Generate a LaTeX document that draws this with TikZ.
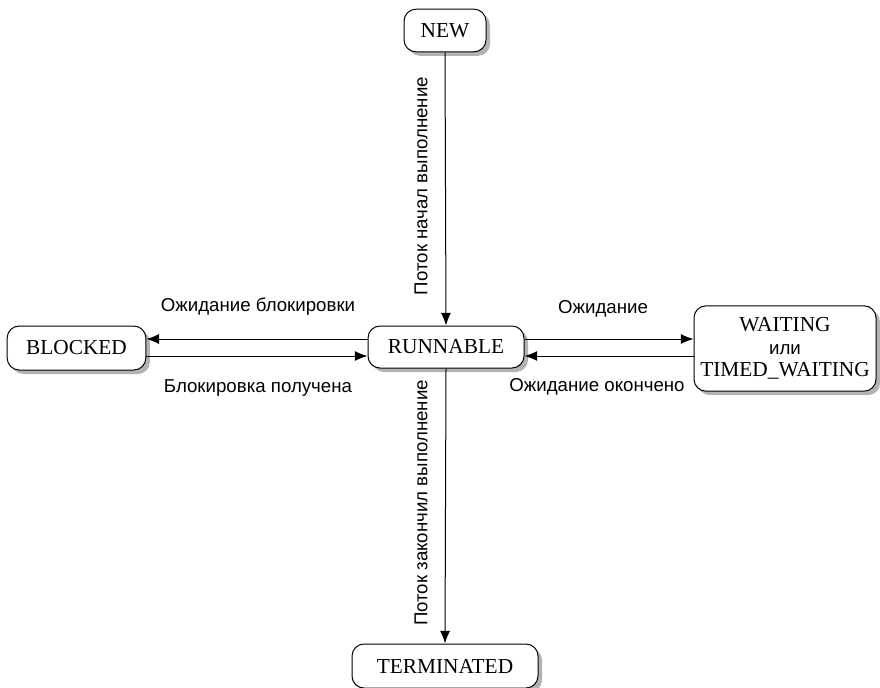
\documentclass[tikz,border=0pt]{standalone}
\usepackage{fontspec}
\setmainfont{Liberation Serif}
\newfontfamily\lblfont{Liberation Sans}
\usetikzlibrary{arrows.meta,shadows}
\tikzset{
  state/.style={draw=black, line width=0.75pt, rounded corners=9pt, fill=white,
    align=center, inner sep=0pt, font=\fontsize{16}{18}\selectfont,
    drop shadow={shadow xshift=3pt, shadow yshift=-3pt, fill=black!50, opacity=0.6}},
  conn/.style={line width=0.75pt, -{Latex[length=9.5pt,width=7.5pt]}},
  lbl/.style={font=\lblfont\fontsize{14}{16}\selectfont, inner sep=0pt}
}
\begin{document}
\begin{tikzpicture}[x=0.75pt,y=-0.75pt]
\useasboundingbox (0,0) rectangle (880,687);
\node[state, minimum width=61.5pt, minimum height=32pt] (new) at (445,30.5) {NEW};
\node[state, minimum width=117pt, minimum height=31.5pt] (run) at (446,347) {RUNNABLE};
\node[state, minimum width=104pt, minimum height=33pt] (blk) at (76.5,348) {BLOCKED};
\node[state, minimum width=136.5pt, minimum height=64pt] (wait) at (785,348.5) {WAITING\\[-1pt]{\lblfont\fontsize{14}{16}\selectfont или}\\[-1pt]TIMED\_WAITING};
\node[state, minimum width=139.5pt, minimum height=33pt] (term) at (445,666) {TERMINATED};

\draw[conn] (new.south) -- (run.north);
\draw[conn] (run.south) -- (term.north);
\draw[conn] (run.west |- 0,339) -- (blk.east |- 0,339);
\draw[conn] (blk.east |- 0,356) -- (run.west |- 0,356);
\draw[conn] (run.east |- 0,339) -- (wait.west |- 0,339);
\draw[conn] (wait.west |- 0,356) -- (run.east |- 0,356);

\node[lbl] (l1) at (258,307) {Ожидание блокировки};
\node[lbl] (l2) at (258,388) {Блокировка получена};
\node[lbl] (l3) at (603,309) {Ожидание};
\node[lbl] (l4) at (597,387) {Ожидание окончено};
\node[lbl, rotate=90] (l5) at (421,186) {Поток начал выполнение};
\node[lbl, rotate=90] (l6) at (421,503) {Поток закончил выполнение};
\end{tikzpicture}
\end{document}
